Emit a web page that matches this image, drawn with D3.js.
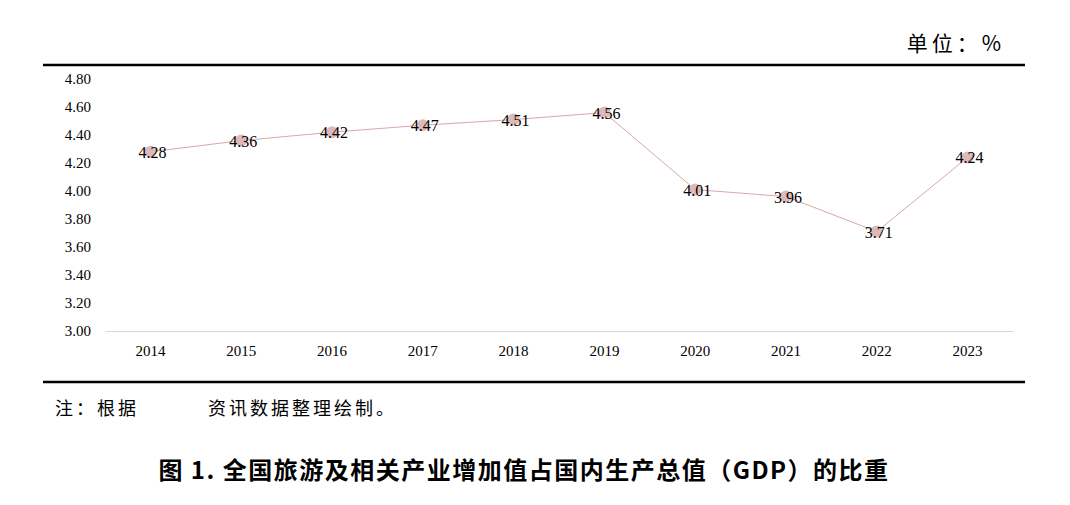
<!DOCTYPE html>
<html><head><meta charset="utf-8">
<script src="https://cdn.jsdelivr.net/npm/d3@7/dist/d3.min.js"></script>
<style>body{margin:0;background:#fff}</style></head>
<body><svg id="c" width="1070" height="505"></svg>
<script>
const years=["2014","2015","2016","2017","2018","2019","2020","2021","2022","2023"];
const values=[4.28,4.36,4.42,4.47,4.51,4.56,4.01,3.96,3.71,4.24];
const yTicks=[3.00,3.20,3.40,3.60,3.80,4.00,4.20,4.40,4.60,4.80];
const svg=d3.select("#c");
const serif="'Liberation Serif','DejaVu Serif',serif", cjk="'Noto Sans CJK SC',sans-serif";
const x=d3.scaleBand().domain(years).range([105,1013]);
const y=d3.scaleLinear().domain([3,4.8]).range([331,79]);
svg.append("line").attr("x1",43).attr("x2",1025).attr("y1",65).attr("y2",65).attr("stroke","#000").attr("stroke-width",2.5);
svg.append("line").attr("x1",43).attr("x2",1025).attr("y1",382).attr("y2",382).attr("stroke","#000").attr("stroke-width",2.5);
svg.append("text").attr("x",1005).attr("y",51).attr("text-anchor","end").attr("font-family",cjk).attr("font-size",21).attr("letter-spacing",4).text("单位：%");
const ya=svg.append("g").attr("transform","translate(105,0)").call(d3.axisLeft(y).tickValues(yTicks).tickSize(0).tickPadding(14).tickFormat(d3.format(".2f")));
ya.select(".domain").remove();
ya.selectAll("text").attr("font-family",serif).attr("font-size",15).attr("fill","#000");
const xa=svg.append("g").attr("transform","translate(0,331)").call(d3.axisBottom(x).tickSize(0).tickPadding(14));
xa.select(".domain").attr("stroke","#d9d9d9");
xa.selectAll("text").attr("font-family",serif).attr("font-size",15).attr("fill","#000");
const cx=d=>x(d)+x.bandwidth()/2;
svg.append("path").datum(values).attr("fill","none").attr("stroke","#d9a8a8").attr("stroke-width",1)
 .attr("d",d3.line().x((d,i)=>cx(years[i])).y(d=>y(d)));
svg.selectAll("circle").data(values).join("circle").attr("cx",(d,i)=>cx(years[i])).attr("cy",d=>y(d)).attr("r",6).attr("fill","#dfb9b9");
svg.selectAll(".lbl").data(values).join("text").attr("x",(d,i)=>cx(years[i])+2).attr("y",d=>y(d)+6).attr("text-anchor","middle")
 .attr("font-family",serif).attr("font-size",16).text(d=>d.toFixed(2));
svg.append("text").attr("x",55).attr("y",415).attr("font-family",cjk).attr("font-size",18).attr("letter-spacing",3).text("注：根据");
svg.append("text").attr("x",208).attr("y",415).attr("font-family",cjk).attr("font-size",18).attr("letter-spacing",3).text("资讯数据整理绘制。");
svg.append("text").attr("x",524).attr("y",479).attr("text-anchor","middle").attr("font-family",cjk).attr("font-weight","bold").attr("font-size",24).attr("letter-spacing",1.5).text("图 1. 全国旅游及相关产业增加值占国内生产总值（GDP）的比重");
</script></body></html>
